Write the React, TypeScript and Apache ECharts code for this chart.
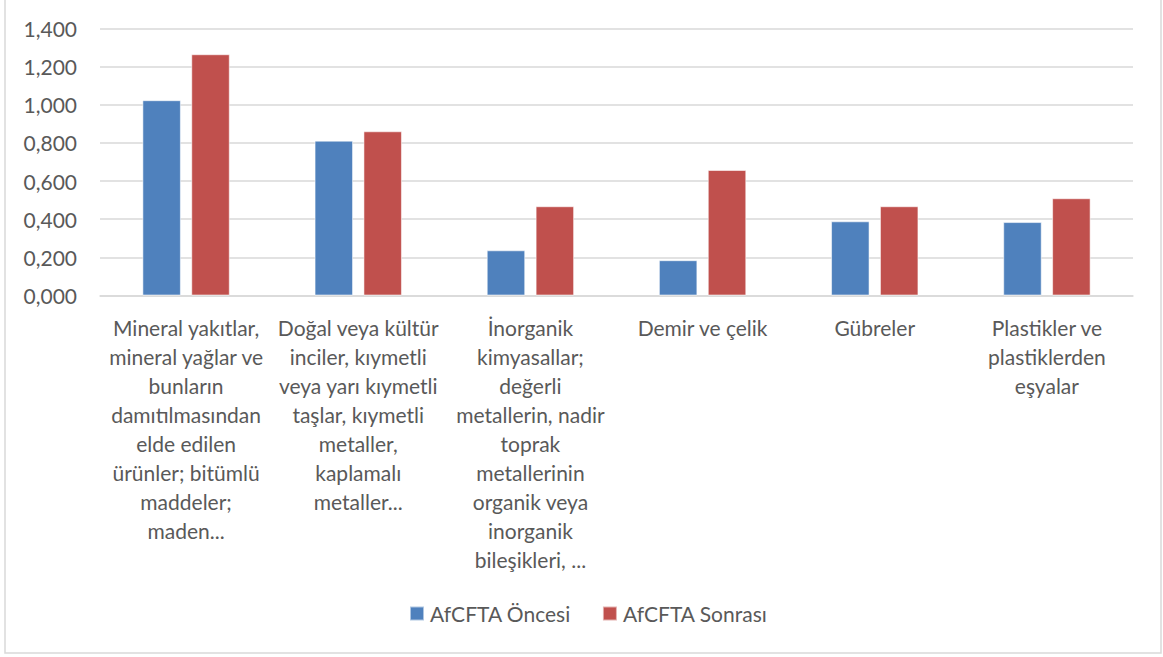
import React, { useEffect, useRef } from "react";
import * as echarts from "echarts";

const categories = [
  "Mineral yakıtlar,\nmineral yağlar ve\nbunların\ndamıtılmasından\nelde edilen\nürünler; bitümlü\nmaddeler;\nmaden...",
  "Doğal veya kültür\ninciler, kıymetli\nveya yarı kıymetli\ntaşlar, kıymetli\nmetaller,\nkaplamalı\nmetaller...",
  "İnorganik\nkimyasallar;\ndeğerli\nmetallerin, nadir\ntoprak\nmetallerinin\norganik veya\ninorganik\nbileşikleri, ...",
  "Demir ve çelik",
  "Gübreler",
  "Plastikler ve\nplastiklerden\neşyalar",
];

const seriesNames = ["AfCFTA Öncesi", "AfCFTA Sonrası"];
const before = [1.024, 0.812, 0.237, 0.185, 0.389, 0.385];
const after = [1.265, 0.861, 0.468, 0.658, 0.468, 0.51];

const FONT = "Lato";
const TEXT = "#595959";

export default function App() {
  const ref = useRef<HTMLDivElement>(null);
  useEffect(() => {
    document.body.style.margin = "0";
    const chart = echarts.init(ref.current!, null, { renderer: "svg" });
    chart.setOption({
      animation: false,
      backgroundColor: "#ffffff",
      textStyle: { fontFamily: FONT },
      graphic: [
        {
          type: "rect",
          shape: { x: 5, y: -2, width: 1156, height: 655 },
          style: { fill: "none", stroke: "#D9D9D9", lineWidth: 1.5 },
          silent: true,
        },
      ],
      grid: { left: 100, right: 30, top: 28.5, bottom: 361.5, containLabel: false },
      legend: {
        data: seriesNames,
        bottom: 28,
        left: 404,
        itemWidth: 14,
        itemHeight: 14,
        itemGap: 31,
        icon: "rect",
        textStyle: { color: TEXT, fontSize: 21, fontFamily: FONT, padding: [0, 0, 0, 1] },
      },
      xAxis: {
        type: "category",
        data: categories,
        axisLine: { show: true, lineStyle: { color: "#D9D9D9", width: 1.5 } },
        axisTick: { show: false },
        axisLabel: {
          interval: 0,
          margin: 17,
          color: TEXT,
          fontSize: 21,
          lineHeight: 29,
          fontFamily: FONT,
          align: "center",
        },
      },
      yAxis: {
        type: "value",
        min: 0,
        max: 1.4,
        interval: 0.2,
        axisLine: { show: false },
        axisTick: { show: false },
        splitLine: { lineStyle: { color: "#D9D9D9", width: 1.5 } },
        axisLabel: {
          margin: 23,
          color: TEXT,
          fontSize: 21,
          fontFamily: FONT,
          formatter: (v: number) => v.toFixed(3).replace(".", ","),
        },
      },
      series: [
        {
          name: seriesNames[0],
          type: "bar",
          data: before,
          barWidth: 38.5,
          barGap: "27%",
          itemStyle: { color: "#4F81BD", borderColor: "rgba(255,255,255,0.55)", borderWidth: 1 },
        },
        {
          name: seriesNames[1],
          type: "bar",
          data: after,
          barWidth: 38.5,
          barGap: "27%",
          itemStyle: { color: "#C0504D", borderColor: "rgba(255,255,255,0.55)", borderWidth: 1 },
        },
      ],
    });
    return () => chart.dispose();
  }, []);
  return (
    <div
      ref={ref}
      style={{ position: "fixed", left: 0, top: 0, width: 1163, height: 657 }}
    />
  );
}
